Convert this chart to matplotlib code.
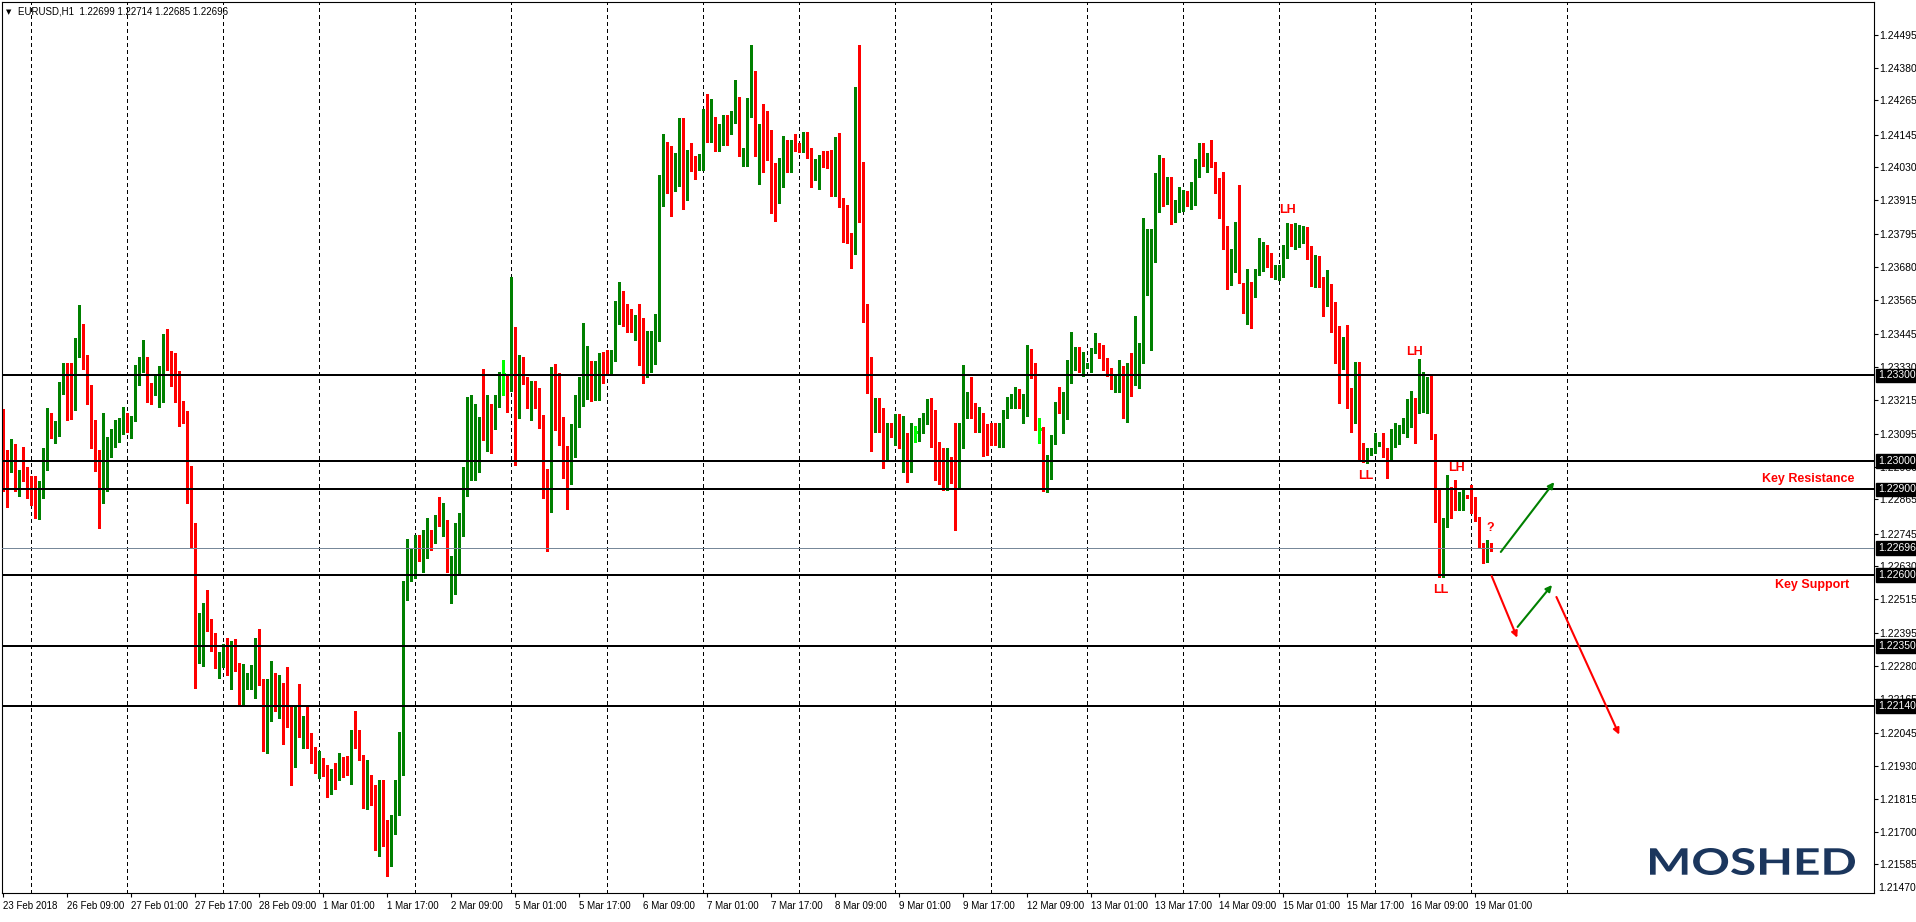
import numpy as np
import matplotlib.pyplot as plt
from matplotlib.textpath import TextPath
from matplotlib.patches import PathPatch
from matplotlib.font_manager import FontProperties
from matplotlib.transforms import Affine2D, blended_transform_factory

plt.rcParams['font.family'] = ['Liberation Sans', 'DejaVu Sans']

# EURUSD H1 bars, 23 Feb 2018 17:00 .. 19 Mar 2018 05:00
close = [
    1.22989, 1.22969, 1.23056, 1.22933, 1.22954, 1.22937, 1.22926, 1.22878, 1.22874, 1.22891,
    1.22972, 1.23148, 1.23095, 1.23119, 1.23278, 1.23302, 1.23191, 1.23188, 1.23424, 1.23452,
    1.23349, 1.23201, 1.23048, 1.23030, 1.22889, 1.22944, 1.23070, 1.23095, 1.23113, 1.23121,
    1.23158, 1.23119, 1.23146, 1.23313, 1.23354, 1.23357, 1.23236, 1.23232, 1.23256, 1.23263,
    1.23389, 1.23325, 1.23307, 1.23271, 1.23166, 1.23162, 1.22867, 1.22726, 1.22384, 1.22389,
    1.22471, 1.22419, 1.22350, 1.22275, 1.22314, 1.22350, 1.22251, 1.22309, 1.22291, 1.22156,
    1.22228, 1.22235, 1.22266, 1.22350, 1.22230, 1.22097, 1.22197, 1.22200, 1.22173, 1.22183,
    1.22173, 1.22075, 1.21949, 1.22102, 1.22079, 1.22097, 1.22023, 1.21983, 1.21906, 1.21918,
    1.21906, 1.21881, 1.21909, 1.21891, 1.21948, 1.21928, 1.21918, 1.22050, 1.21995, 1.21960,
    1.21808, 1.21871, 1.21838, 1.21681, 1.21868, 1.21720, 1.21600, 1.21720, 1.21800, 1.21950,
    1.22548, 1.22612, 1.22638, 1.22740, 1.22705, 1.22729, 1.22740, 1.22722, 1.22796, 1.22773,
    1.22785, 1.22619, 1.22628, 1.22737, 1.22755, 1.22898, 1.23035, 1.23075, 1.23082, 1.23133,
    1.23083, 1.23140, 1.23116, 1.23214, 1.23306, 1.23306, 1.23175, 1.23455, 1.23169, 1.23319,
    1.23295, 1.23214, 1.23263, 1.23210, 1.23163, 1.22906, 1.22836, 1.23239, 1.23215, 1.23129,
    1.23008, 1.22968, 1.23075, 1.23230, 1.23266, 1.23288, 1.23336, 1.23242, 1.23252, 1.23371,
    1.23341, 1.23333, 1.23364, 1.23496, 1.23555, 1.23502, 1.23492, 1.23465, 1.23489, 1.23380,
    1.23328, 1.23384, 1.23438, 1.23458, 1.23968, 1.24087, 1.24067, 1.23948, 1.23975, 1.24157,
    1.23928, 1.24055, 1.24049, 1.24019, 1.24026, 1.24207, 1.24152, 1.24172, 1.24136, 1.24163,
    1.24185, 1.24146, 1.24187, 1.24257, 1.24085, 1.24098, 1.24234, 1.24346, 1.24071, 1.24170,
    1.24141, 1.24094, 1.24027, 1.23959, 1.24002, 1.24079, 1.24044, 1.24118, 1.24096, 1.24093,
    1.24122, 1.24070, 1.24001, 1.24017, 1.24066, 1.24056, 1.24035, 1.23961, 1.24114, 1.23924,
    1.23822, 1.23785, 1.23780, 1.24097, 1.24021, 1.23504, 1.23272, 1.23129, 1.23182, 1.23136,
    1.23044, 1.23123, 1.23089, 1.23126, 1.23062, 1.23091, 1.22977, 1.23101, 1.23101, 1.23132,
    1.23147, 1.23208, 1.23056, 1.23012, 1.22974, 1.22933, 1.22980, 1.22945, 1.22928, 1.23120,
    1.23182, 1.23241, 1.23170, 1.23120, 1.23140, 1.23062, 1.23036, 1.23095, 1.23079, 1.23103,
    1.23161, 1.23212, 1.23226, 1.23246, 1.23191, 1.23226, 1.23372, 1.23334, 1.23112, 1.23112,
    1.22916, 1.23007, 1.23071, 1.23208, 1.23173, 1.23187, 1.23288, 1.23364, 1.23389, 1.23313,
    1.23337, 1.23341, 1.23383, 1.23401, 1.23386, 1.23337, 1.23302, 1.23272, 1.23278, 1.23281,
    1.23187, 1.23337, 1.23286, 1.23293, 1.23364, 1.23658, 1.23684, 1.23746, 1.23977, 1.24013,
    1.23906, 1.23977, 1.23845, 1.23884, 1.23901, 1.23935, 1.23924, 1.23944, 1.24030, 1.24087,
    1.24041, 1.24073, 1.24036, 1.23986, 1.23880, 1.23744, 1.23662, 1.23738, 1.23802, 1.23623,
    1.23571, 1.23627, 1.23609, 1.23670, 1.23746, 1.23754, 1.23699, 1.23658, 1.23670, 1.23682,
    1.23748, 1.23815, 1.23760, 1.23789, 1.23793, 1.23813, 1.23738, 1.23652, 1.23687, 1.23643,
    1.23594, 1.23620, 1.23474, 1.23380, 1.23329, 1.23434, 1.23191, 1.23153, 1.23348, 1.23027,
    1.23004, 1.23030, 1.23034, 1.23056, 1.23060, 1.23036, 1.23004, 1.23053, 1.23074, 1.23099,
    1.23109, 1.23175, 1.23179, 1.23175, 1.23226, 1.23253, 1.23278, 1.23083, 1.22834, 1.22600,
    1.22793, 1.22908, 1.22883, 1.22832, 1.22855, 1.22875, 1.22873, 1.22846, 1.22802, 1.22702,
    1.22682, 1.22702, 1.22696,
]
high = [
    1.23181, 1.23039, 1.23077, 1.23060, 1.22969, 1.23050, 1.22979, 1.22946, 1.22946, 1.22930,
    1.23046, 1.23187, 1.23169, 1.23141, 1.23278, 1.23344, 1.23344, 1.23344, 1.23432, 1.23548,
    1.23481, 1.23372, 1.23267, 1.23144, 1.23039, 1.23169, 1.23083, 1.23113, 1.23144, 1.23150,
    1.23188, 1.23170, 1.23157, 1.23336, 1.23365, 1.23424, 1.23365, 1.23272, 1.23299, 1.23333,
    1.23446, 1.23463, 1.23387, 1.23379, 1.23315, 1.23211, 1.23176, 1.22983, 1.22783, 1.22466,
    1.22502, 1.22548, 1.22446, 1.22397, 1.22329, 1.22358, 1.22380, 1.22368, 1.22376, 1.22291,
    1.22289, 1.22258, 1.22283, 1.22380, 1.22411, 1.22235, 1.22235, 1.22297, 1.22258, 1.22251,
    1.22220, 1.22278, 1.22144, 1.22144, 1.22217, 1.22107, 1.22141, 1.22046, 1.21997, 1.21983,
    1.21958, 1.21934, 1.21921, 1.21941, 1.21977, 1.21960, 1.21966, 1.22057, 1.22123, 1.22055,
    1.21969, 1.21952, 1.21900, 1.21862, 1.21880, 1.21880, 1.21740, 1.21760, 1.21880, 1.22050,
    1.22579, 1.22726, 1.22691, 1.22740, 1.22740, 1.22758, 1.22799, 1.22759, 1.22810, 1.22874,
    1.22852, 1.22793, 1.22666, 1.22783, 1.22817, 1.22979, 1.23226, 1.23232, 1.23200, 1.23153,
    1.23322, 1.23231, 1.23200, 1.23231, 1.23313, 1.23355, 1.23306, 1.23646, 1.23471, 1.23371,
    1.23364, 1.23295, 1.23279, 1.23279, 1.23255, 1.23163, 1.22972, 1.23329, 1.23340, 1.23310,
    1.23153, 1.23053, 1.23129, 1.23230, 1.23293, 1.23483, 1.23403, 1.23350, 1.23350, 1.23380,
    1.23384, 1.23391, 1.23391, 1.23561, 1.23628, 1.23596, 1.23549, 1.23532, 1.23512, 1.23550,
    1.23501, 1.23455, 1.23455, 1.23516, 1.24004, 1.24148, 1.24118, 1.24105, 1.24082, 1.24203,
    1.24203, 1.24092, 1.24116, 1.24071, 1.24078, 1.24236, 1.24287, 1.24270, 1.24208, 1.24183,
    1.24214, 1.24214, 1.24227, 1.24337, 1.24276, 1.24098, 1.24273, 1.24459, 1.24368, 1.24181,
    1.24252, 1.24228, 1.24161, 1.24044, 1.24062, 1.24140, 1.24126, 1.24126, 1.24146, 1.24114,
    1.24154, 1.24154, 1.24097, 1.24058, 1.24073, 1.24089, 1.24089, 1.24091, 1.24135, 1.24149,
    1.23924, 1.23898, 1.23799, 1.24312, 1.24459, 1.24048, 1.23551, 1.23364, 1.23220, 1.23220,
    1.23187, 1.23134, 1.23134, 1.23165, 1.23165, 1.23158, 1.23097, 1.23134, 1.23123, 1.23150,
    1.23170, 1.23216, 1.23220, 1.23179, 1.23068, 1.23044, 1.23044, 1.23015, 1.23132, 1.23132,
    1.23337, 1.23241, 1.23293, 1.23202, 1.23188, 1.23167, 1.23130, 1.23134, 1.23134, 1.23132,
    1.23179, 1.23226, 1.23235, 1.23261, 1.23251, 1.23234, 1.23407, 1.23393, 1.23345, 1.23152,
    1.23118, 1.23021, 1.23091, 1.23208, 1.23261, 1.23243, 1.23354, 1.23454, 1.23401, 1.23401,
    1.23383, 1.23345, 1.23395, 1.23450, 1.23415, 1.23407, 1.23360, 1.23325, 1.23299, 1.23354,
    1.23333, 1.23343, 1.23378, 1.23509, 1.23413, 1.23851, 1.23813, 1.23813, 1.24009, 1.24073,
    1.24062, 1.23995, 1.23995, 1.23915, 1.23960, 1.23951, 1.23948, 1.23980, 1.24058, 1.24114,
    1.24114, 1.24079, 1.24126, 1.24050, 1.23992, 1.24013, 1.23825, 1.23744, 1.23837, 1.23968,
    1.23623, 1.23673, 1.23627, 1.23673, 1.23783, 1.23769, 1.23758, 1.23728, 1.23687, 1.23687,
    1.23758, 1.23836, 1.23831, 1.23834, 1.23828, 1.23824, 1.23820, 1.23755, 1.23723, 1.23720,
    1.23647, 1.23670, 1.23620, 1.23557, 1.23474, 1.23434, 1.23477, 1.23255, 1.23348, 1.23348,
    1.23062, 1.23044, 1.23044, 1.23097, 1.23068, 1.23097, 1.23044, 1.23112, 1.23132, 1.23126,
    1.23150, 1.23216, 1.23246, 1.23222, 1.23357, 1.23313, 1.23296, 1.23299, 1.23095, 1.22902,
    1.22799, 1.22951, 1.22908, 1.22933, 1.22892, 1.22904, 1.22880, 1.22916, 1.22875, 1.22802,
    1.22711, 1.22723, 1.22714,
]
low = [
    1.22893, 1.22839, 1.22960, 1.22893, 1.22878, 1.22929, 1.22871, 1.22844, 1.22801, 1.22795,
    1.22871, 1.22969, 1.23082, 1.23062, 1.23086, 1.23234, 1.23145, 1.23149, 1.23179, 1.23365,
    1.23321, 1.23201, 1.23046, 1.22966, 1.22766, 1.22851, 1.22893, 1.23015, 1.23050, 1.23068,
    1.23095, 1.23103, 1.23079, 1.23140, 1.23268, 1.23313, 1.23208, 1.23200, 1.23230, 1.23191,
    1.23207, 1.23319, 1.23262, 1.23208, 1.23121, 1.23133, 1.22851, 1.22699, 1.22204, 1.22291,
    1.22281, 1.22405, 1.22332, 1.22275, 1.22240, 1.22278, 1.22251, 1.22200, 1.22262, 1.22141,
    1.22141, 1.22200, 1.22200, 1.22170, 1.22216, 1.21983, 1.21976, 1.22087, 1.22123, 1.22099,
    1.22009, 1.22067, 1.21864, 1.21925, 1.22032, 1.21995, 1.21992, 1.21940, 1.21906, 1.21887,
    1.21895, 1.21821, 1.21831, 1.21850, 1.21881, 1.21891, 1.21898, 1.21867, 1.21992, 1.21952,
    1.21783, 1.21780, 1.21795, 1.21634, 1.21613, 1.21650, 1.21545, 1.21580, 1.21690, 1.21760,
    1.21900, 1.22511, 1.22579, 1.22588, 1.22648, 1.22610, 1.22659, 1.22689, 1.22713, 1.22773,
    1.22737, 1.22612, 1.22503, 1.22534, 1.22608, 1.22737, 1.22877, 1.22934, 1.22934, 1.22961,
    1.23075, 1.23035, 1.23028, 1.23113, 1.23190, 1.23230, 1.23172, 1.23246, 1.22986, 1.23152,
    1.23270, 1.23187, 1.23145, 1.23187, 1.23116, 1.22871, 1.22683, 1.22820, 1.23110, 1.23055,
    1.22941, 1.22832, 1.22920, 1.23015, 1.23120, 1.23192, 1.23219, 1.23210, 1.23215, 1.23215,
    1.23274, 1.23310, 1.23310, 1.23350, 1.23481, 1.23474, 1.23454, 1.23454, 1.23425, 1.23337,
    1.23274, 1.23293, 1.23313, 1.23340, 1.23422, 1.23894, 1.23941, 1.23861, 1.23948, 1.23965,
    1.23883, 1.23917, 1.24018, 1.23989, 1.24019, 1.24019, 1.24118, 1.24118, 1.24089, 1.24089,
    1.24109, 1.24109, 1.24146, 1.24187, 1.24069, 1.24036, 1.24036, 1.24208, 1.24071, 1.23970,
    1.24015, 1.24056, 1.23871, 1.23843, 1.23904, 1.23962, 1.24015, 1.24015, 1.24089, 1.24085,
    1.24085, 1.24064, 1.23960, 1.23987, 1.23955, 1.24032, 1.24029, 1.23931, 1.23931, 1.23890,
    1.23768, 1.23763, 1.23678, 1.23725, 1.23837, 1.23489, 1.23237, 1.23035, 1.23103, 1.23103,
    1.22974, 1.23004, 1.23083, 1.23056, 1.23047, 1.22963, 1.22928, 1.22963, 1.23068, 1.23070,
    1.23099, 1.23129, 1.23050, 1.22933, 1.22918, 1.22898, 1.22898, 1.22922, 1.22758, 1.22906,
    1.23047, 1.23152, 1.23152, 1.23103, 1.23103, 1.23018, 1.23022, 1.23056, 1.23056, 1.23050,
    1.23050, 1.23152, 1.23187, 1.23187, 1.23185, 1.23134, 1.23158, 1.23290, 1.23109, 1.23064,
    1.22896, 1.22892, 1.22937, 1.23060, 1.23167, 1.23099, 1.23146, 1.23272, 1.23319, 1.23313,
    1.23299, 1.23325, 1.23313, 1.23378, 1.23360, 1.23319, 1.23299, 1.23253, 1.23243, 1.23243,
    1.23152, 1.23138, 1.23229, 1.23267, 1.23257, 1.23345, 1.23582, 1.23389, 1.23699, 1.23875,
    1.23894, 1.23900, 1.23831, 1.23839, 1.23875, 1.23878, 1.23894, 1.23883, 1.23898, 1.23997,
    1.24035, 1.24015, 1.24030, 1.23939, 1.23851, 1.23744, 1.23603, 1.23617, 1.23662, 1.23623,
    1.23518, 1.23479, 1.23465, 1.23576, 1.23652, 1.23667, 1.23682, 1.23647, 1.23638, 1.23635,
    1.23647, 1.23711, 1.23755, 1.23744, 1.23750, 1.23763, 1.23707, 1.23615, 1.23611, 1.23611,
    1.23510, 1.23545, 1.23454, 1.23345, 1.23205, 1.23323, 1.23185, 1.23103, 1.23132, 1.23007,
    1.22995, 1.22992, 1.23021, 1.23027, 1.23053, 1.23015, 1.22942, 1.23000, 1.23050, 1.23060,
    1.23099, 1.23085, 1.23120, 1.23062, 1.23170, 1.23173, 1.23170, 1.23076, 1.22787, 1.22594,
    1.22594, 1.22770, 1.22799, 1.22828, 1.22828, 1.22828, 1.22870, 1.22816, 1.22791, 1.22697,
    1.22641, 1.22647, 1.22685,
]
first_open = 1.23036
gap_open = {127: 1.23344, 247: 1.23101, 372: 1.22699}

level_lines = [1.23300, 1.23000, 1.22900, 1.22600, 1.22350, 1.22140]
last_price = 1.22696

price_ticks = [1.24495, 1.24380, 1.24265, 1.24145, 1.24030, 1.23915, 1.23795,
               1.23680, 1.23565, 1.23445, 1.23330, 1.23215, 1.23095, 1.22980,
               1.22865, 1.22745, 1.22630, 1.22515, 1.22395, 1.22280, 1.22165,
               1.22045, 1.21930, 1.21815, 1.21700, 1.21585]
bottom_tick = "1.21470"

time_labels = ["23 Feb 2018", "26 Feb 09:00", "27 Feb 01:00", "27 Feb 17:00",
               "28 Feb 09:00", "1 Mar 01:00", "1 Mar 17:00", "2 Mar 09:00",
               "5 Mar 01:00", "5 Mar 17:00", "6 Mar 09:00", "7 Mar 01:00",
               "7 Mar 17:00", "8 Mar 09:00", "9 Mar 01:00", "9 Mar 17:00",
               "12 Mar 09:00", "13 Mar 01:00", "13 Mar 17:00", "14 Mar 09:00",
               "15 Mar 01:00", "15 Mar 17:00", "16 Mar 09:00", "19 Mar 01:00"]
label_bars = [0] + [16 * k for k in range(1, 24)]
day_bars = [7 + 24 * k for k in range(17)]   # midnight separators

# swing labels (bar, price, text)
swing_notes = [(321.1, 1.23880, "LH"), (340.6, 1.22947, "LL"),
               (352.75, 1.23383, "LH"), (363.35, 1.22977, "LH"),
               (359.35, 1.22548, "LL"), (371.85, 1.22766, "?")]

assert len(close) == len(high) == len(low)
n = len(close)
close = np.array(close)
high = np.array(high)
low = np.array(low)
opens = np.r_[first_open, close[:-1]]
for k, v in gap_open.items():
    opens[k] = v
x = np.arange(n)

W, H = 1916, 922
fig = plt.figure(figsize=(W / 100, H / 100), dpi=100)
ax = fig.add_axes([2 / W, 29 / H, 1872 / W, 891 / H])
ymin, ymax = 1.214847, 1.246099
px = (ymax - ymin) / 891
ax.set_xlim(-0.325, 467.7)
ax.set_ylim(ymin, ymax)

# day separators
for b in day_bars:
    ax.axvline(b, color="black", lw=0.75, ls=(0, (3, 3)), zorder=1,
               antialiased=False)

hi = np.maximum(high, np.maximum(opens, close))
lo = np.minimum(low, np.minimum(opens, close))
flat = np.round(opens, 5) == np.round(close, 5)
up = (close > opens) & ~flat
dn = (close < opens) & ~flat
bot = np.minimum(opens, close)
hgt = np.maximum(np.abs(close - opens), px)

for mask, col in [(up, "#008000"), (dn, "#ff0000")]:
    ax.vlines(x[mask], lo[mask], hi[mask], color=col, lw=0.8,
              antialiased=False, zorder=2)
    ax.bar(x[mask], hgt[mask], bottom=bot[mask], width=0.8, color=col,
           linewidth=0, antialiased=False, zorder=2)
ax.vlines(x[flat], lo[flat], hi[flat], color="#00ff00", lw=0.8,
          antialiased=False, zorder=2)
ax.hlines(close[flat], x[flat] - 0.4, x[flat] + 0.4, color="#00ff00", lw=0.8,
          antialiased=False, zorder=2)

# horizontal levels
ytrans = blended_transform_factory(ax.transAxes, ax.transData)
for p in level_lines:
    ax.axhline(p, color="black", lw=1.1, zorder=4, antialiased=False)
ax.axhline(last_price, color="#778899", lw=0.72, zorder=4, antialiased=False)
for p in level_lines + [last_price]:
    ax.text(1 + 4 / 1872, p, "%.5f" % p, transform=ytrans, ha="left",
            va="center", color="white", fontsize=7.5, clip_on=False, zorder=6,
            bbox=dict(boxstyle="square,pad=0.18", fc="black", ec="black"))

# axes styling
ax.yaxis.tick_right()
ax.set_yticks(price_ticks)
ax.set_yticklabels(["%.5f" % p for p in price_ticks])
ax.tick_params(axis="y", length=3, width=0.8, pad=1, labelsize=7.5)
ax.text(1 + 4 / 1872, 5 / 891, bottom_tick, transform=ax.transAxes,
        ha="left", va="center", fontsize=7.5, clip_on=False)
ax.set_xticks(label_bars)
ax.set_xticklabels(time_labels)
ax.tick_params(axis="x", length=3, width=0.8, pad=3, labelsize=7)
for lbl in ax.get_xticklabels():
    lbl.set_ha("left")
for sp in ax.spines.values():
    sp.set_linewidth(0.8)

# annotations
for b, p, t in swing_notes:
    ax.text(b, p, t, color="#ff0000", fontsize=9, fontweight="bold",
            ha="center", va="center", zorder=5)
ax.text(462.9, 1.22937, "Key Resistance", color="#ff0000", fontsize=9,
        fontweight="bold", ha="right", va="center", zorder=5)
ax.text(461.4, 1.22565, "Key Support", color="#ff0000", fontsize=9,
        fontweight="bold", ha="right", va="center", zorder=5)

arrows = [((374.4, 1.22681), (387.75, 1.22926), "#008000"),
          ((372.1, 1.22597), (378.5, 1.22380), "#ff0000"),
          ((378.6, 1.22418), (387.2, 1.22565), "#008000"),
          ((388.3, 1.22523), (404.0, 1.22040), "#ff0000")]
for tail, head, col in arrows:
    ax.annotate("", xy=head, xytext=tail,
                arrowprops=dict(arrowstyle="-|>", color=col, lw=1.5,
                                mutation_scale=9, shrinkA=0, shrinkB=0),
                zorder=5)

# header
fig.text(6 / W, 1 - 12 / H, "\u25bc", fontsize=5, family="DejaVu Sans",
         va="center", ha="left")
fig.text(18 / W, 1 - 12 / H, "EURUSD,H1  1.22699 1.22714 1.22685 1.22696",
         fontsize=7, va="center", ha="left")

# logo
tp = TextPath((0, 0), "MOSHED", size=100,
              prop=FontProperties(family="Lato", weight="bold"))
bb = tp.get_extents()
tr = (Affine2D().translate(-bb.x0, -bb.y0)
      .scale(205 / bb.width / W, 27 / bb.height / H)
      .translate(1650 / W, 47 / H) + fig.transFigure)
fig.patches.append(PathPatch(tp, transform=tr, fc="#1b365d", ec="none"))

fig.savefig("out.png", dpi=100)
